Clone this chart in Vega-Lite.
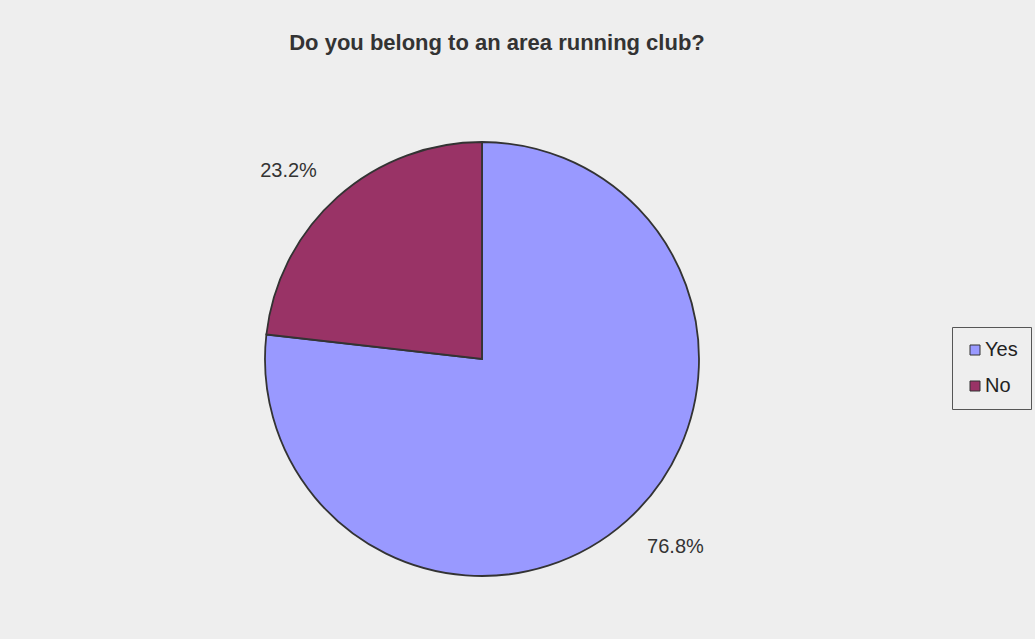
{
  "$schema": "https://vega.github.io/schema/vega-lite/v6.json",
  "autosize": "none",
  "padding": {"left": 6, "top": 7, "right": 77, "bottom": 0},
  "width": 952,
  "height": 704,
  "background": "#eeeeee",
  "title": {
    "text": "Do you belong to an area running club?",
    "font": "Liberation Sans",
    "fontSize": 22,
    "fontWeight": "bold",
    "color": "#333333",
    "anchor": "middle",
    "frame": "group",
    "orient": "top",
    "offset": 0,
    "baseline": "alphabetic",
    "dx": 15,
    "dy": 65
  },
  "data": {
    "values": [
      {"answer": "Yes", "share": 0.768},
      {"answer": "No", "share": 0.232}
    ]
  },
  "encoding": {
    "theta": {"field": "share", "type": "quantitative", "stack": true},
    "order": {"field": "answer", "sort": "descending"}
  },
  "layer": [
    {
      "mark": {"type": "arc", "radius": 217, "stroke": "#333333", "strokeWidth": 1.8},
      "encoding": {
        "color": {
          "field": "answer",
          "type": "nominal",
          "scale": {"domain": ["Yes", "No"], "range": ["#9999ff", "#993366"]},
          "legend": {
            "title": null,
            "orient": "none",
            "legendX": 946,
            "legendY": 320,
            "strokeColor": "#555555",
            "padding": 13,
            "symbolType": "square",
            "symbolSize": 100,
            "symbolOffset": 0,
            "symbolStrokeColor": "#333333",
            "symbolStrokeWidth": 1,
            "labelFont": "Liberation Sans",
            "labelFontSize": 20,
            "labelColor": "#222222",
            "labelOffset": 0,
            "rowPadding": 16
          }
        }
      }
    },
    {
      "mark": {"type": "text", "radius": 270, "thetaOffset": -0.07, "font": "Liberation Sans", "fontSize": 20, "color": "#333333"},
      "encoding": {
        "text": {"field": "share", "type": "quantitative", "format": ".1%"}
      }
    }
  ],
  "config": {"view": {"stroke": null}}
}
